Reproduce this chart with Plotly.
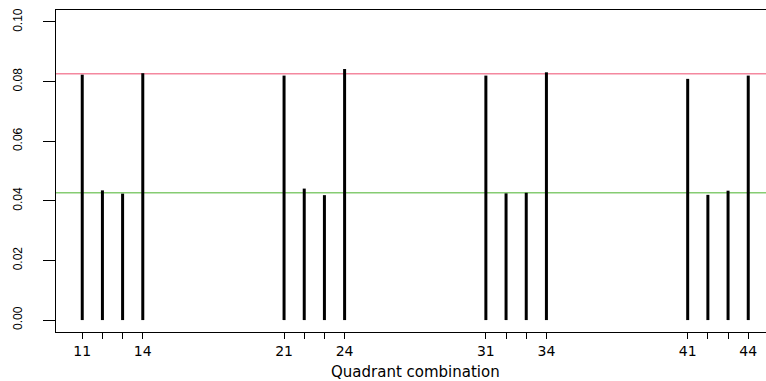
import plotly.graph_objects as go

# Data
combos = [11, 12, 13, 14, 21, 22, 23, 24, 31, 32, 33, 34, 41, 42, 43, 44]
probs = [0.0823, 0.0435, 0.0424, 0.0828,
         0.0820, 0.0441, 0.0419, 0.0842,
         0.0820, 0.0425, 0.0427, 0.0831,
         0.0809, 0.0420, 0.0434, 0.0820]
tick_labels = ["11", "", "", "14", "21", "", "", "24",
               "31", "", "", "34", "41", "", "", "44"]
ref_values = [0.0826, 0.0427]
ref_colors = ["#F4889F", "#86CC72"]
y_ticks = [0.00, 0.02, 0.04, 0.06, 0.08, 0.10]
x_title = "Quadrant combination"

xs, ys = [], []
for c, p in zip(combos, probs):
    xs += [c, c, None]
    ys += [0, p, None]

fig = go.Figure()
fig.add_trace(go.Scatter(x=xs, y=ys, mode="lines",
                         line=dict(color="black", width=3),
                         hoverinfo="skip", showlegend=False))

for v, col in zip(ref_values, ref_colors):
    fig.add_shape(type="line", xref="paper", yref="y", x0=0, x1=1, y0=v, y1=v,
                  line=dict(color=col, width=1.5), layer="below")

fig.add_annotation(text=x_title, xref="paper", yref="paper", x=0.507, y=-0.124,
                   xanchor="center", yanchor="middle", showarrow=False, borderpad=0,
                   font=dict(family="DejaVu Sans, sans-serif", size=15, color="black"))

fig.update_layout(
    width=766, height=381,
    margin=dict(l=56, r=0, t=10, b=49),
    plot_bgcolor="white", paper_bgcolor="white",
    font=dict(family="Liberation Sans, Arial, sans-serif", color="black"),
    xaxis=dict(
        range=[9.70, 44.88], tickmode="array", tickvals=combos, ticktext=tick_labels,
        ticks="outside", ticklen=6, tickwidth=1, tickcolor="black",
        showline=True, linecolor="black", linewidth=1, mirror=True,
        showgrid=False, zeroline=False, automargin=False,
        tickfont=dict(family="DejaVu Sans, sans-serif", size=14),
    ),
    yaxis=dict(
        range=[-0.004, 0.104], tickmode="array", tickvals=y_ticks, tickformat=".2f",
        ticks="outside", ticklen=12, tickwidth=1, tickcolor="black",
        showline=True, linecolor="black", linewidth=1, mirror=False,
        showgrid=False, zeroline=False, tickangle=-90, automargin=False,
        tickfont=dict(family="Liberation Sans, sans-serif", size=12),
        ticklabelstandoff=16,
    ),
)

fig.write_html("out.html", config={"displayModeBar": False},
               post_script="document.body.style.margin='0px';")
